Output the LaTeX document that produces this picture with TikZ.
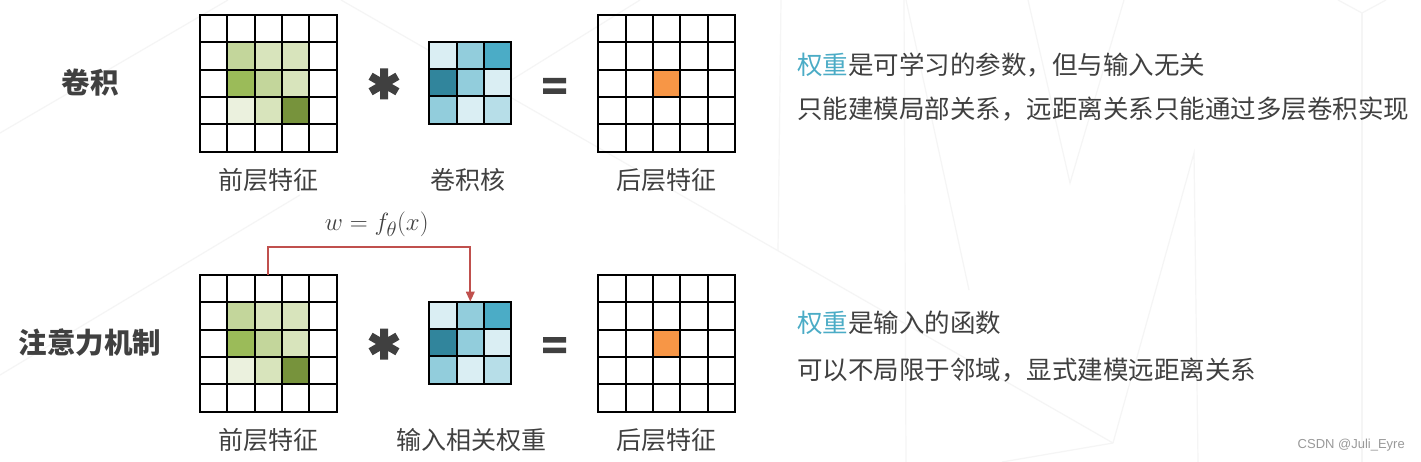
\documentclass[tikz,border=0pt]{standalone}
\usepackage{fontspec}
\newfontfamily\cjk{Noto Sans CJK SC}
\newfontfamily\wmfont{Liberation Sans}
\usetikzlibrary{arrows.meta, positioning}

\definecolor{inkgray}{HTML}{404040}
\definecolor{wblue}{HTML}{4BACC6}
\definecolor{wred}{HTML}{C0504D}
\definecolor{gA}{HTML}{EBF1DE}
\definecolor{gB}{HTML}{D8E4BC}
\definecolor{gC}{HTML}{C3D69B}
\definecolor{gD}{HTML}{9BBB59}
\definecolor{gE}{HTML}{77933C}
\definecolor{bA}{HTML}{DAEEF3}
\definecolor{bB}{HTML}{B7DEE8}
\definecolor{bC}{HTML}{92CDDC}
\definecolor{bD}{HTML}{4BACC6}
\definecolor{bE}{HTML}{31859C}
\definecolor{hot}{HTML}{F79646}

\newcommand{\cellw}{27.33}
% fill cells col/row/colour of a grid node
\newcommand{\paintcells}[2]{%
  \begin{scope}[shift={(#1.north west)}]
    \foreach \cx/\cy/\cc in {#2}
      \fill[\cc] (\cx*\cellw,\cy*\cellw) rectangle ++(\cellw,\cellw);
  \end{scope}}
% n x n grid lines over a grid node
\newcommand{\gridlines}[2]{%
  \begin{scope}[shift={(#1.north west)}]
    \foreach \k in {0,...,#2} {
      \draw[gridline] (\k*\cellw,0) -- (\k*\cellw,#2*\cellw);
      \draw[gridline] (0,\k*\cellw) -- (#2*\cellw,\k*\cellw);
    }
  \end{scope}}

\begin{document}
\begin{tikzpicture}[
        x=1pt, y=-1pt,
        gridframe/.style={inner sep=0pt, outer sep=0pt},
        gridline/.style={line width=1.8pt, line cap=rect},
        caption/.style={font=\cjk\fontsize{25}{30}\selectfont, text=inkgray, inner sep=0pt},
        rowtitle/.style={font=\cjk\bfseries\fontsize{28.5}{34}\selectfont, text=inkgray, inner sep=0pt},
        note/.style={font=\cjk\fontsize{25.5}{30}\selectfont, text=inkgray, anchor=west, inner sep=0pt},
        opsign/.style={line width=8pt, inkgray},
        bgline/.style={black!4, line width=1.2pt},
        wline/.style={wred, line width=2pt, -{Triangle[length=10pt, width=8.5pt]}}
        ]
        \fill[white] (0,0) rectangle (1421,462);
        \useasboundingbox (0,0) rectangle (1421,462);

        % background strokes
        \draw[bgline] (0,133) -- (228,0);
        \draw[bgline] (0,375) -- (300,195);
        \draw[bgline] (341,0) -- (1113,443);
        \draw[bgline] (460,112) -- (640,0);
        \draw[bgline] (781,0) -- (778,250);
        \draw[bgline] (904,0) -- (906,462);
        \draw[bgline] (906,0) -- (969,290);
        \draw[bgline] (1028,0) -- (1070,183) -- (1124,0);
        \draw[bgline] (1113,443) -- (1194,153) -- (1198,462);
        \draw[bgline] (1002,462) -- (1113,443);
        \draw[bgline] (1338,0) -- (1362,13) -- (1386,0);
        \draw[bgline] (1362,13) -- (1362,462);

        % convolution row
        \node[rowtitle] (convT) at (90,83) {卷积};
        \node[gridframe, minimum size=136.67pt] (inA) at (268.3,83.3) {};
        \node[gridframe, minimum size=82pt] (kerA) at (470.3,82.7) {};
        \node[gridframe, minimum size=136.67pt] (outA) at (666.7,83.3) {};
        \paintcells{inA}{1/1/gC, 2/1/gB, 3/1/gB, 1/2/gD, 2/2/gC, 3/2/gB, 1/3/gA, 2/3/gB, 3/3/gE}
        \paintcells{kerA}{0/0/bA, 1/0/bC, 2/0/bD, 0/1/bE, 1/1/bC, 2/1/bA, 0/2/bC, 1/2/bA, 2/2/bB}
        \paintcells{outA}{2/2/hot}
        \gridlines{inA}{5}
        \gridlines{kerA}{3}
        \gridlines{outA}{5}
        \coordinate (starA) at (384,84);
        \draw[opsign, shift={(starA)}] (0,-15.5) -- (0,15.5) (-13.4,-7.75) -- (13.4,7.75) (-13.4,7.75) -- (13.4,-7.75);
        \coordinate (eqA) at (554.5,86);
        \fill[inkgray, shift={(eqA)}] (-11.5,-8) rectangle (11.5,-2.5) (-11.5,2.5) rectangle (11.5,8);
        \node[caption] (inAcap) at (268.3,180) {前层特征};
        \node[caption] (kerAcap) at (468,180) {卷积核};
        \node[caption] (outAcap) at (666.7,180) {后层特征};

        % attention row
        \node[rowtitle] (attT) at (90,343) {注意力机制};
        \node[gridframe, minimum size=136.67pt] (inB) at (268.3,343.3) {};
        \node[gridframe, minimum size=82pt] (kerB) at (470.3,342.7) {};
        \node[gridframe, minimum size=136.67pt] (outB) at (666.7,343.3) {};
        \paintcells{inB}{1/1/gC, 2/1/gB, 3/1/gB, 1/2/gD, 2/2/gC, 3/2/gB, 1/3/gA, 2/3/gB, 3/3/gE}
        \paintcells{kerB}{0/0/bA, 1/0/bC, 2/0/bD, 0/1/bE, 1/1/bC, 2/1/bA, 0/2/bC, 1/2/bA, 2/2/bB}
        \paintcells{outB}{2/2/hot}
        \gridlines{inB}{5}
        \gridlines{kerB}{3}
        \gridlines{outB}{5}
        \coordinate (starB) at (384,344);
        \draw[opsign, shift={(starB)}] (0,-15.5) -- (0,15.5) (-13.4,-7.75) -- (13.4,7.75) (-13.4,7.75) -- (13.4,-7.75);
        \coordinate (eqB) at (554.5,345);
        \fill[inkgray, shift={(eqB)}] (-11.5,-8) rectangle (11.5,-2.5) (-11.5,2.5) rectangle (11.5,8);
        \node[caption] (inBcap) at (268.3,440) {前层特征};
        \node[caption] (kerBcap) at (471,440) {输入相关权重};
        \node[caption] (outBcap) at (666.7,440) {后层特征};

        \node[font=\fontsize{29}{33}\selectfont, text=inkgray, inner sep=0pt] (wfun) at (376.7,224) {$w=f_\theta(x)$};
        \draw[wline] (inB.north) -- ++(0,-28.3) -| (kerB.north);

        % notes
        \node[note] (noteA1) at (797,65) {\textcolor{wblue}{权重}是可学习的参数，但与输入无关};
        \node[note] (noteA2) at (797,109) {只能建模局部关系，远距离关系只能通过多层卷积实现};
        \node[note] (noteB1) at (797,323) {\textcolor{wblue}{权重}是输入的函数};
        \node[note] (noteB2) at (797,370) {可以不局限于邻域，显式建模远距离关系};

        \node[font=\wmfont\fontsize{13}{15}\selectfont, text=black!40, anchor=east, inner sep=0pt] (mark) at (1405,445) {CSDN @Juli\_Eyre};
    \end{tikzpicture}
\end{document}
